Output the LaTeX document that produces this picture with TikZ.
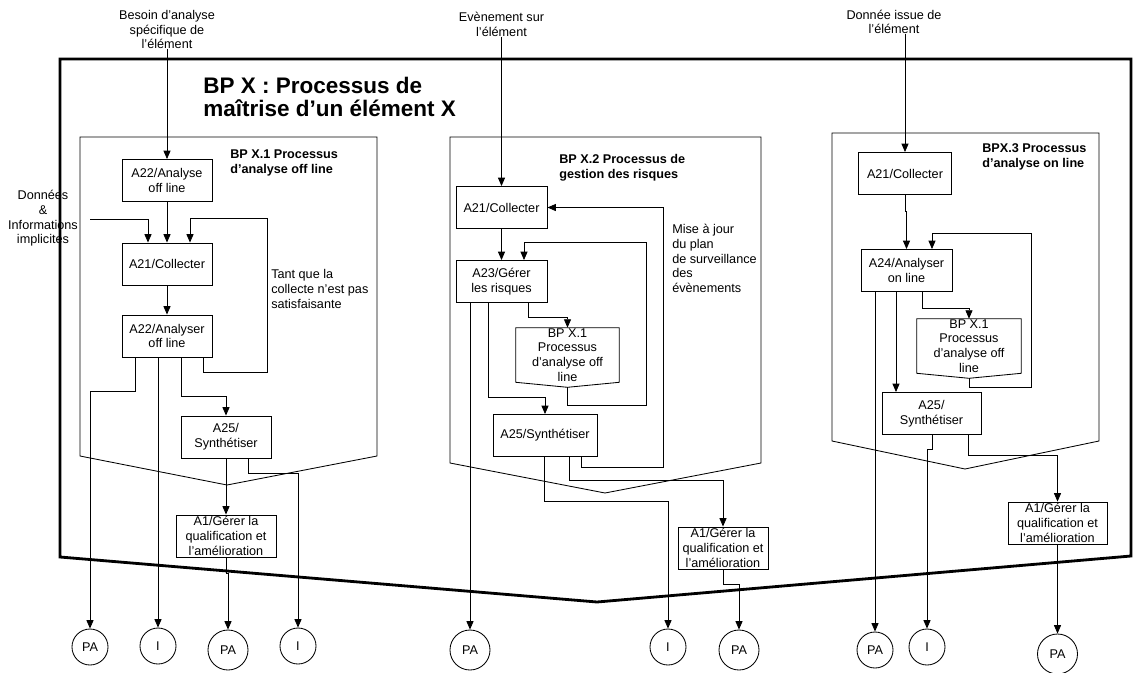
\documentclass[tikz,border=0pt]{standalone}
\usepackage{fontspec}
\setmainfont{Liberation Sans}
\usetikzlibrary{arrows.meta, positioning, calc}

\begin{document}
\begin{tikzpicture}[x=0.025cm, y=-0.025cm,
  font=\fontsize{9}{10.4}\selectfont,
  box/.style={draw, line width=0.6pt, align=center, inner sep=0pt, minimum height=1.05cm},
  subbp/.style={align=center, inner sep=0pt, minimum height=1.35cm},
  ext/.style={draw, circle, line width=0.6pt, inner sep=0pt, minimum size=0.9cm},
  bigext/.style={ext, minimum size=1cm},
  flow/.style={-{Triangle[length=6pt,width=5pt]}, line width=0.6pt},
  lbl/.style={align=center, inner sep=0pt},
  note/.style={align=left, anchor=west, inner sep=0pt},
  grp/.style={note, font=\bfseries\fontsize{9}{10.4}\selectfont},
  frame/.style={line width=2pt, line join=miter}]
  \useasboundingbox (0,0) rectangle (1133,672);

  % cadre du BP X
  \draw[frame] (60,59) -- (1131,59) -- (1131,556) -- (597,602) -- (60,557) -- cycle;
  \node[note, font=\bfseries\fontsize{16}{17}\selectfont] (titre) at (203,97) {BP X : Processus de\\maîtrise d’un élément X};

  % entrées
  \node[lbl] (in1) at (167,29.5) {Besoin d’analyse\\spécifique de\\l’élément};
  \node[lbl] (in2) at (501.5,24.5) {Evènement sur\\l’élément};
  \node[lbl] (in3) at (894,22) {Donnée issue de\\l’élément};
  \node[lbl] (in4) at (43,218.5) {Données\\\&\\Informations\\implicites};
  \coordinate (d0) at (90,219);

  % BP X.1
  \draw[line width=0.6pt] (80,137) -- (377,137) -- (377,456) -- (227,485) -- (80,456) -- cycle;
  \node[grp] (t1) at (230,163) {BP X.1 Processus\\d’analyse off line};
  \node[box, minimum width=2.25cm] (a22) at (167,180.5) {A22/Analyse\\off line};
  \node[box, minimum width=2.25cm] (a21) at (167,264) {A21/Collecter};
  \node[box, minimum width=2.25cm] (a22b) at (167,336) {A22/Analyser\\off line};
  \node[box, minimum width=2.25cm] (a25) at (226,437) {A25/\\Synthétiser};
  \node[box, minimum width=2.5cm] (a1) at (226,536) {A1/Gérer la\\qualification et\\l’amélioration};
  \node[note] (boucle1) at (271,289) {Tant que la\\collecte n’est pas\\satisfaisante};

  \draw[flow] (in1.south) -- (a22.north);
  \draw[flow] (a22.south) -- (a21.north);
  \draw[flow] (d0) -| ($(a21.north)+(-19,0)$);
  \draw[flow] ($(a22b.south)+(36,0)$) |- (267,372) |- ($(a21.north)+(23,-24)$) -- ($(a21.north)+(23,0)$);
  \draw[flow] (a21.south) -- (a22b.north);
  \draw[flow] ($(a22b.south)+(14,0)$) -- ++(0,39) -| (a25.north);
  \draw[flow] (a25.south) -- (a1.north);

  % BP X.2
  \draw[line width=0.6pt] (450,137) -- (761,137) -- (761,463) -- (605,493) -- (450,463) -- cycle;
  \node[grp] (t2) at (559,168) {BP X.2 Processus de\\gestion des risques};
  \node[box, minimum width=2.275cm] (m21) at (501.5,207.5) {A21/Collecter};
  \node[box, minimum width=2.275cm] (m23) at (501.5,281.5) {A23/Gérer\\les risques};
  \node[subbp, minimum width=2.575cm] (mbp) at (567.5,355) {BP X.1\\Processus\\d’analyse off\\line};
  \draw[line width=0.6pt] (mbp.north west) -- (mbp.north east) -- (mbp.south east) -- ($(mbp.south)+(0,5)$) -- (mbp.south west) -- cycle;
  \node[box, minimum width=2.6cm] (m25) at (545,435.5) {A25/Synthétiser};
  \node[box, minimum width=2.25cm] (m1) at (723,548) {A1/Gérer la\\qualification et\\l’amélioration};
  \node[note] (boucle2) at (672,258.5) {Mise à jour\\du plan\\de surveillance\\des\\évènements};

  \draw[flow] (in2.south) -- (m21.north);
  \draw[flow] (m21.south) -- (m23.north);
  \draw[flow] ($(m25.south)+(36,0)$) |- (663,467) |- (m21.east);
  \draw[flow] ($(mbp.south)+(0,5)$) |- (646,405) |- ($(m23.north)+(22.5,-18)$) -- ($(m23.north)+(22.5,0)$);
  \draw[flow] ($(m23.south)+(-13.5,0)$) |- ($(m25.north)+(0,-17)$) -- (m25.north);
  \draw[flow] ($(m23.south)+(26.5,0)$) -- ++(0,14) -| (mbp.north);

  % BP X.3
  \draw[line width=0.6pt] (832,133) -- (1099,133) -- (1099,441) -- (965,469) -- (832,441) -- cycle;
  \node[grp] (t3) at (982,157) {BPX.3 Processus\\d’analyse on line};
  \node[box, minimum width=2.325cm] (r21) at (905,173.5) {A21/Collecter};
  \node[box, minimum width=2.275cm] (r24) at (906.5,270.5) {A24/Analyser\\on line};
  \node[subbp, minimum width=2.6cm] (rbp) at (969,346) {BP X.1\\Processus\\d’analyse off\\line};
  \draw[line width=0.6pt] (rbp.north west) -- (rbp.north east) -- (rbp.south east) -- ($(rbp.south)+(0,5)$) -- (rbp.south west) -- cycle;
  \node[box, minimum width=2.475cm] (r25) at (931.5,413.5) {A25/\\Synthétiser};
  \node[box, minimum width=2.475cm] (r1) at (1057.5,523) {A1/Gérer la\\qualification et\\l’amélioration};

  \draw[flow] (in3.south -| r21.north) -- (r21.north);
  \draw[flow] (r21.south) -- ++(0,16) -| (r24.north);
  \draw[flow] ($(rbp.south)+(0,5)$) |- (1031,387) |- ($(r24.north)+(25.5,-16)$) -- ($(r24.north)+(25.5,0)$);
  \draw[flow] ($(r24.south)+(-10.5,0)$) -- ($(r25.north)+(-35.5,0)$);
  \draw[flow] ($(r24.south)+(15.5,0)$) -- ++(0,16) -| (rbp.north);
  \draw[flow] ($(r25.south)+(36.5,0)$) -- ++(0,20) -| (r1.north);

  % sorties
  \node[ext] (pa1) at (90,647) {PA};
  \node[ext] (i1) at (158,646) {I};
  \node[bigext] (pa2) at (228,650) {PA};
  \node[ext] (i2) at (298,646) {I};
  \node[bigext] (pa3) at (470,650) {PA};
  \node[ext] (i3) at (668,647) {I};
  \node[bigext] (pa4) at (739,650) {PA};
  \node[ext] (pa5) at (875,650) {PA};
  \node[ext] (i4) at (927,647) {I};
  \node[bigext] (pa6) at (1057.5,654) {PA};

  \draw[flow] ($(a22b.south)+(-32,0)$) -- ++(0,34) -| (pa1.north);
  \draw[flow] ($(a22b.south)+(-9,0)$) -- (i1.north);
  \draw[flow] (a1.south) -- ++(0,16) -| (pa2.north);
  \draw[flow] ($(a25.south)+(22,0)$) -- ++(0,15) -| (i2.north);
  \draw[flow] ($(m23.south)+(-31.5,0)$) -- (pa3.north);
  \draw[flow] ($(m25.south)+(-1,0)$) -- ++(0,44) -| (i3.north);
  \draw[flow] ($(m25.south)+(24,0)$) -- ++(0,23) -| (m1.north);
  \draw[flow] (m1.south) -- ++(0,15) -| (pa4.north);
  \draw[flow] ($(r24.south)+(-31.5,0)$) -- (pa5.north);
  \draw[flow] ($(r25.south)+(0.5,0)$) -- ++(0,14) -| (i4.north);
  \draw[flow] (r1.south) -- (pa6.north);
\end{tikzpicture}
\end{document}
